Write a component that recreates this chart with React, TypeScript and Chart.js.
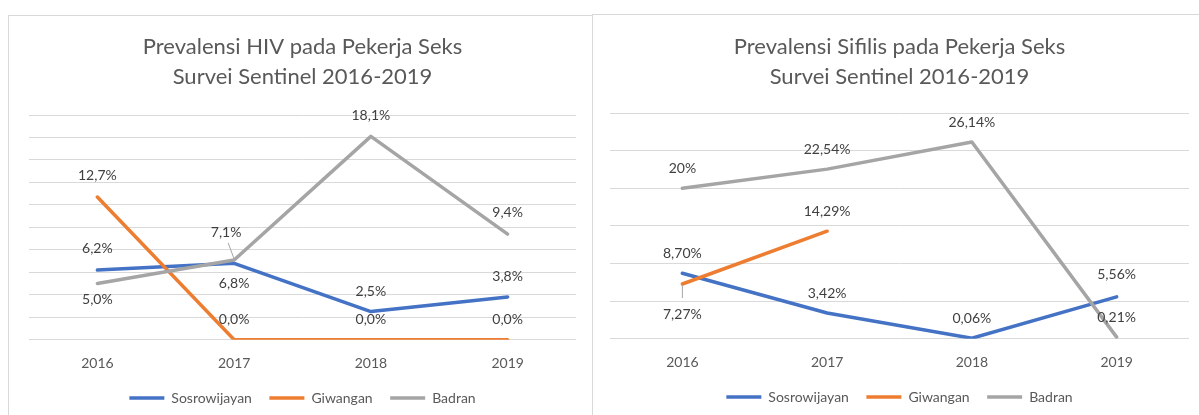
import React, { useEffect, useRef } from "react";
import { Chart, registerables } from "chart.js";

Chart.register(...registerables);

// ---------- data ----------
const years = ["2016", "2017", "2018", "2019"];
const seriesNames = ["Sosrowijayan", "Giwangan", "Badran"];
const seriesColors = ["#4472C4", "#ED7D31", "#A5A5A5"];

const hivTitle = ["Prevalensi HIV pada Pekerja Seks", "Survei Sentinel 2016-2019"];
const hivSosrowijayan = [6.2, 6.8, 2.5, 3.8];
const hivGiwangan = [12.7, 0, 0, 0];
const hivBadran = [5.0, 7.1, 18.1, 9.4];
const hivSosrowijayanLabels = ["6,2%", "6,8%", "2,5%", "3,8%"];
const hivGiwanganLabels = ["12,7%", "0,0%", "0,0%", "0,0%"];
const hivBadranLabels = ["5,0%", "7,1%", "18,1%", "9,4%"];
const hivYMax = 20;
const hivYStep = 2;

const sifTitle = ["Prevalensi Sifilis pada Pekerja Seks", "Survei Sentinel 2016-2019"];
const sifSosrowijayan = [8.7, 3.42, 0.06, 5.56];
const sifGiwangan = [7.27, 14.29, null, null];
const sifBadran = [20, 22.54, 26.14, 0.21];
const sifSosrowijayanLabels = ["8,70%", "3,42%", "0,06%", "5,56%"];
const sifGiwanganLabels = ["7,27%", "14,29%", null, null];
const sifBadranLabels = ["20%", "22,54%", "26,14%", "0,21%"];
const sifYMax = 30;
const sifYStep = 5;

// ---------- styles ----------
const FONT = "Lato, 'Open Sans', sans-serif";
const TEXT = "#595959";
const LABEL_TEXT = "#404040";
const GRID = "#d9d9d9";

type Place = { dx?: number; dy: number; leader?: [number, number] };

const hivPlaces: Place[][] = [
  [{ dy: -22 }, { dy: 20 }, { dy: -20 }, { dy: -21 }],
  [{ dy: -22 }, { dy: -20 }, { dy: -20 }, { dy: -20 }],
  [{ dy: 16 }, { dx: -8, dy: -27, leader: [2, 10] }, { dy: -21 }, { dy: -22 }],
];
const sifPlaces: Place[][] = [
  [{ dy: -20 }, { dy: -19 }, { dy: -20 }, { dy: -22 }],
  [{ dy: 30, leader: [0, -16] }, { dy: -20 }, { dy: -20 }, { dy: -20 }],
  [{ dy: -20 }, { dy: -20 }, { dy: -20 }, { dy: -20 }],
];

const dataLabelPlugin = {
  id: "dataLabels",
  afterDatasetsDraw(chart: any, _args: any, opts: any) {
    const { ctx } = chart;
    const texts = opts.texts as (string | null)[][];
    const places = opts.places as Place[][];
    ctx.save();
    ctx.font = `14px ${FONT}`;
    ctx.textAlign = "center";
    ctx.textBaseline = "middle";
    chart.data.datasets.forEach((ds: any, i: number) => {
      const meta = chart.getDatasetMeta(i);
      meta.data.forEach((pt: any, j: number) => {
        const t = texts[i][j];
        if (!t || ds.data[j] == null) return;
        const p = places[i][j];
        const lx = pt.x + (p.dx || 0);
        const ly = pt.y + p.dy;
        if (p.leader) {
          ctx.strokeStyle = "#a6a6a6";
          ctx.lineWidth = 1;
          ctx.beginPath();
          ctx.moveTo(pt.x, pt.y + (p.dy > 0 ? 1 : -1));
          ctx.lineTo(lx + p.leader[0], ly + p.leader[1]);
          ctx.stroke();
        }
        ctx.fillStyle = LABEL_TEXT;
        ctx.fillText(t, lx, ly);
      });
    });
    ctx.restore();
  },
};

type ChartProps = {
  title: string[];
  series: (number | null)[][];
  labels: (string | null)[][];
  places: Place[][];
  yMax: number;
  yStep: number;
  left: number;
  top: number;
  width: number;
  height: number;
  padLeft: number;
  padRight: number;
  titleTop: number;
  titleBottom: number;
};

function LineChart(props: ChartProps) {
  const ref = useRef<HTMLCanvasElement | null>(null);
  useEffect(() => {
    if (!ref.current) return;
    const chart = new Chart(ref.current, {
      type: "line",
      data: {
        labels: years,
        datasets: props.series.map((vals, i) => ({
          label: seriesNames[i],
          data: vals,
          borderColor: seriesColors[i],
          backgroundColor: seriesColors[i],
          borderWidth: 3.5,
          borderCapStyle: "round",
          borderJoinStyle: "round",
          pointRadius: 0,
          pointHoverRadius: 0,
          tension: 0,
          fill: false,
          spanGaps: false,
          order: 3 - i,
        })),
      },
      options: {
        responsive: false,
        animation: false,
        devicePixelRatio: 1,
        layout: { padding: { left: props.padLeft, right: props.padRight, top: 0, bottom: 0 } },
        scales: {
          x: {
            offset: true,
            grid: { display: false, drawTicks: true, tickLength: 13 },
            border: { display: false },
            ticks: { color: TEXT, font: { family: FONT, size: 14 }, padding: 2 },
          },
          y: {
            min: 0,
            max: props.yMax,
            ticks: { display: false, stepSize: props.yStep },
            grid: { color: GRID, lineWidth: 1, drawTicks: false },
            border: { display: false },
          },
        },
        plugins: {
          title: {
            display: true,
            text: props.title,
            color: TEXT,
            font: { family: FONT, size: 22, weight: "normal", lineHeight: 30 / 22 },
            padding: { top: props.titleTop, bottom: props.titleBottom },
          },
          legend: {
            display: true,
            position: "bottom",
            labels: {
              usePointStyle: true,
              pointStyle: "line",
              pointStyleWidth: 35,
              boxHeight: 14,
              padding: 17.5,
              color: TEXT,
              font: { family: FONT, size: 14 },
              sort: (a: any, b: any) => a.datasetIndex - b.datasetIndex,
            },
          },
          tooltip: { enabled: false },
          dataLabels: { texts: props.labels, places: props.places },
        } as any,
      },
      plugins: [dataLabelPlugin],
    } as any);
    return () => chart.destroy();
  }, []);
  return (
    <canvas
      ref={ref}
      width={props.width}
      height={props.height}
      style={{ position: "absolute", left: props.left, top: props.top, width: props.width, height: props.height }}
    />
  );
}

export default function App() {
  return (
    <div style={{ position: "fixed", left: 0, top: 0, width: 1199, height: 415, overflow: "hidden", background: "#fff" }}>
      <div
        style={{
          position: "absolute",
          left: 8,
          top: 15,
          width: 584,
          height: 500,
          borderLeft: `1px solid ${GRID}`,
          borderTop: `1px solid ${GRID}`,
          boxSizing: "border-box",
        }}
      />
      <div
        style={{
          position: "absolute",
          left: 592,
          top: 14,
          width: 700,
          height: 500,
          borderLeft: `1px solid ${GRID}`,
          borderTop: `1px solid ${GRID}`,
          boxSizing: "border-box",
        }}
      />
      <LineChart
        title={hivTitle}
        series={[hivSosrowijayan, hivGiwangan, hivBadran]}
        labels={[hivSosrowijayanLabels, hivGiwanganLabels, hivBadranLabels]}
        places={hivPlaces}
        yMax={hivYMax}
        yStep={hivYStep}
        left={9}
        top={16}
        width={582}
        height={399}
        padLeft={20}
        padRight={15}
        titleTop={16}
        titleBottom={23}
      />
      <LineChart
        title={sifTitle}
        series={[sifSosrowijayan, sifGiwangan, sifBadran]}
        labels={[sifSosrowijayanLabels, sifGiwanganLabels, sifBadranLabels]}
        places={sifPlaces}
        yMax={sifYMax}
        yStep={sifYStep}
        left={593}
        top={15}
        width={606}
        height={399}
        padLeft={17}
        padRight={10}
        titleTop={17}
        titleBottom={21}
      />
    </div>
  );
}
